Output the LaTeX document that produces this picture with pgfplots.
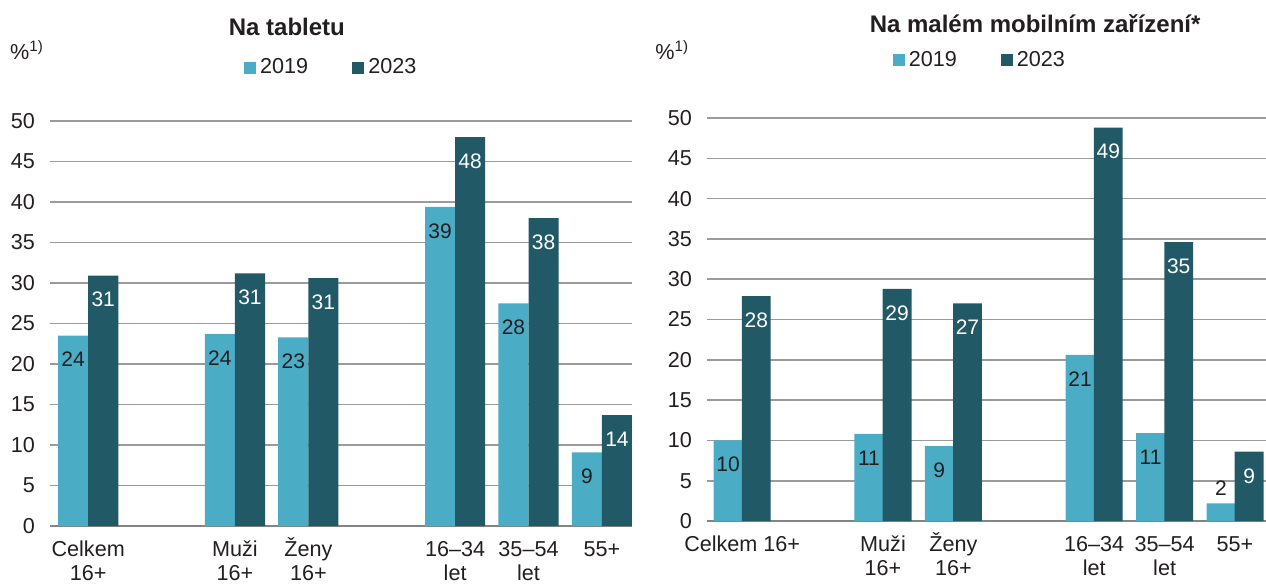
\documentclass[border=0pt]{standalone}
\usepackage{fontspec}
\setmainfont{Liberation Sans}
\usepackage{pgfplots}
\pgfplotsset{compat=1.18}
\usepackage{pgfplotstable}

\definecolor{c19}{RGB}{75,172,198}
\definecolor{c23}{RGB}{34,89,102}
\definecolor{txt}{RGB}{35,31,32}
\definecolor{gridc}{RGB}{155,155,155}

% tablet
\pgfplotstableread{
x y19 l19 o19 y23 l23 o23
0 23.5 24 -12 30.9 31 -12
2 23.7 24 -12 31.2 31 -12
3 23.3 23 -12 30.6 31 -12
5 39.4 39 -12 48.0 48 -12
6 27.5 28 -12 38.0 38 -12
7 9.1  9  -12 13.7 14 -12
}\tabL

% small mobile device
\pgfplotstableread{
x y19 l19 o19 y23 l23 o23
0 10.0 10 -12 27.9 28 -12
2 10.8 11 -12 28.8 29 -12
3 9.3  9  -12 27.0 27 -12
5 20.6 21 -12 48.8 49 -12
6 10.9 11 -12 34.6 35 -12
7 2.2  2  7.5 8.6  9  -12.5
}\tabR

\newcommand{\ph}{\vphantom{Ž}}

\pgfplotsset{
  panel/.style={
    scale only axis, clip=false,
    ybar=0pt, bar width=0.41,
    ymin=0, ymax=50, ytick distance=5,
    axis x line*=bottom, axis y line*=left,
    x axis line style={draw=gridc!85!black, line width=1pt},
    y axis line style={draw=none},
    ymajorgrids, major grid style={draw=gridc, line width=0.8pt},
    major tick length=0pt,
    xtick={0,2,3,5,6,7},
    /pgf/number format/assume math mode=true,
    tick label style={font=\fontsize{10.8}{11}\selectfont, text=txt},
    y tick label style={xshift=-4pt},
    x tick label style={align=center, yshift=-2.5pt, font=\fontsize{10.8}{12}\selectfont},
    title style={font=\bfseries\fontsize{12}{14}\selectfont, text=txt, anchor=center},
    legend style={draw=none, fill=none, legend columns=2, anchor=center,
      font=\fontsize{10.8}{12}\selectfont, text=txt,
      /tikz/every even column/.append style={column sep=20pt}},
    nodes near coords, point meta=explicit symbolic,
    every node near coord/.append style={anchor=center, yshift=\off pt,
      font=\fontsize{10.5}{11}\selectfont},
  },
  sq/.style={legend image code/.code={\fill[##1] (0pt,-3pt) rectangle (6pt,3pt);}},
}

\begin{document}
\begin{tikzpicture}
\path[use as bounding box] (0,0) rectangle (633pt,-292pt);

\begin{axis}[panel,
  at={(25pt,-263pt)}, anchor=south west,
  width=291pt, height=202.5pt,
  xmin=-0.52, xmax=7.41,
  xticklabels={\ph Celkem\\16+, \ph Muži\\16+, Ženy\\16+, \ph 16–34\\let, \ph 35–54\\let, \ph 55+},
  title={Na tabletu}, title style={at={(0.407,1.203)}},
  legend style={at={(0.485,1.131)}},
]
\addplot[sq, fill=c19, draw=none, bar shift=-0.205,
  visualization depends on={\thisrow{o19} \as \off},
  nodes near coords style={text=txt}]
  table[x=x, y=y19, meta=l19] {\tabL};
\addplot[sq, fill=c23, draw=none, bar shift=0.205,
  visualization depends on={\thisrow{o23} \as \off},
  nodes near coords style={text=white}]
  table[x=x, y=y23, meta=l23] {\tabL};
\legend{2019, 2023}
\node[anchor=west, text=txt, font=\fontsize{10.8}{11}\selectfont, inner sep=0pt]
  at (rel axis cs:-0.069,1.175) {\%\textsuperscript{1)}};
\end{axis}

\begin{axis}[panel,
  at={(353.5pt,-260.5pt)}, anchor=south west,
  width=279.5pt, height=201.5pt,
  xmin=-0.5, xmax=7.44,
  xticklabels={\ph Celkem 16+, \ph Muži\\16+, Ženy\\16+, \ph 16–34\\let, \ph 35–54\\let, \ph 55+},
  title={Na malém mobilním zařízení*}, title style={at={(0.587,1.205)}},
  legend style={at={(0.49,1.144)}},
]
\addplot[sq, fill=c19, draw=none, bar shift=-0.2,
  visualization depends on={\thisrow{o19} \as \off},
  nodes near coords style={text=txt}]
  table[x=x, y=y19, meta=l19] {\tabR};
\addplot[sq, fill=c23, draw=none, bar shift=0.2,
  visualization depends on={\thisrow{o23} \as \off},
  nodes near coords style={text=white}]
  table[x=x, y=y23, meta=l23] {\tabR};
\legend{2019, 2023}
\node[anchor=west, text=txt, font=\fontsize{10.8}{11}\selectfont, inner sep=0pt]
  at (rel axis cs:-0.093,1.169) {\%\textsuperscript{1)}};
\end{axis}
\end{tikzpicture}
\end{document}
